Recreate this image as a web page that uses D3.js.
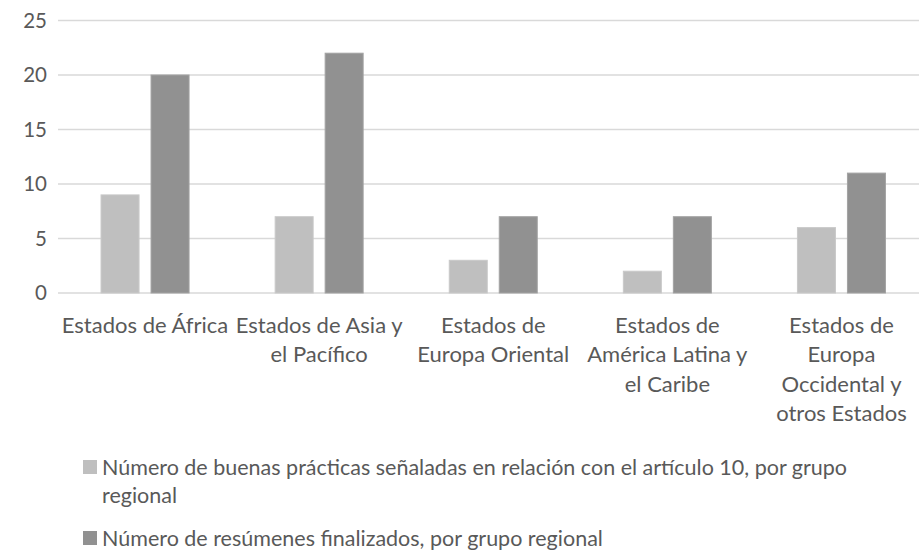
<!DOCTYPE html>
<html>
<head>
<meta charset="utf-8">
<script src="https://cdn.jsdelivr.net/npm/d3@7"></script>
<style>
  html, body { margin: 0; padding: 0; background: #fff; }
  svg { display: block; }
  text { font-family: Lato, "Open Sans", sans-serif; fill: #595959; }
</style>
</head>
<body>
<svg id="chart" width="919" height="550"></svg>
<script>
// Regional groups (already split into display lines)
const categories = [
  ["Estados de África"],
  ["Estados de Asia y", "el Pacífico"],
  ["Estados de", "Europa Oriental"],
  ["Estados de", "América Latina y", "el Caribe"],
  ["Estados de", "Europa", "Occidental y", "otros Estados"]
];
const seriesNames = [
  "Número de buenas prácticas señaladas en relación con el artículo 10, por grupo regional",
  "Número de resúmenes finalizados, por grupo regional"
];
const legendLines = [
  ["Número de buenas prácticas señaladas en relación con el artículo 10, por grupo", "regional"],
  ["Número de resúmenes finalizados, por grupo regional"]
];
const buenasPracticas = [9, 7, 3, 2, 6];
const resumenes = [20, 22, 7, 7, 11];
const yTicks = [0, 5, 10, 15, 20, 25];
const colors = ["#bfbfbf", "#919191"];
const strokes = ["#c9c9c9", "#a3a3a3"];

const svg = d3.select("#chart");
const W = 919;
const plot = { left: 58, right: 928.5, top: 20.5, bottom: 293 };

const x0 = d3.scaleBand()
  .domain(d3.range(categories.length))
  .range([plot.left, plot.right])
  .paddingInner(0).paddingOuter(0);

const x1 = d3.scaleBand()
  .domain([0, 1])
  .range([0, x0.bandwidth()])
  .paddingInner(0.22)
  .paddingOuter(0.851);

const y = d3.scaleLinear().domain([0, 25]).range([plot.bottom, plot.top]);

// Horizontal gridlines
svg.append("g")
  .selectAll("line")
  .data(yTicks)
  .join("line")
  .attr("x1", plot.left)
  .attr("x2", W)
  .attr("y1", d => y(d))
  .attr("y2", d => y(d))
  .attr("stroke", "#d9d9d9")
  .attr("stroke-width", 1.5);

// Y tick labels
svg.append("g")
  .selectAll("text")
  .data(yTicks)
  .join("text")
  .attr("x", 47)
  .attr("y", d => y(d))
  .attr("dy", "0.36em")
  .attr("text-anchor", "end")
  .style("font-size", "20.5px")
  .text(d => d);

// Bars
const series = [buenasPracticas, resumenes];
const groups = svg.append("g")
  .selectAll("g")
  .data(categories.map((c, i) => i))
  .join("g")
  .attr("transform", i => `translate(${x0(i)},0)`);

groups.selectAll("rect")
  .data(i => series.map((s, k) => ({ k, v: s[i] })))
  .join("rect")
  .attr("x", d => x1(d.k) + 0.5)
  .attr("width", x1.bandwidth() - 1)
  .attr("y", d => y(d.v))
  .attr("height", d => y(0) - y(d.v))
  .attr("fill", d => colors[d.k])
  .attr("stroke", d => strokes[d.k])
  .attr("stroke-width", 1);

// Category labels
const catG = svg.append("g")
  .selectAll("text")
  .data(categories)
  .join("text")
  .attr("text-anchor", "middle")
  .style("font-size", "22px")
  .attr("transform", (d, i) => `translate(${x0(i) + x0.bandwidth() / 2},${plot.bottom + 32})`);

catG.selectAll("tspan")
  .data(d => d)
  .join("tspan")
  .attr("x", 0)
  .attr("y", (d, j) => j * 29.3)
  .attr("dy", "0.36em")
  .text(d => d);

// Legend
const legendY = [467, 538];
const leg = svg.append("g")
  .selectAll("g")
  .data(seriesNames)
  .join("g")
  .attr("transform", (d, i) => `translate(83,${legendY[i]})`);

leg.append("rect")
  .attr("x", 0)
  .attr("y", -7)
  .attr("width", 14)
  .attr("height", 14)
  .attr("fill", (d, i) => colors[i]);

leg.append("text")
  .style("font-size", "21.5px")
  .selectAll("tspan")
  .data((d, i) => legendLines[i])
  .join("tspan")
  .attr("x", 19)
  .attr("y", (d, j) => j * 28)
  .attr("dy", "0.36em")
  .text(d => d);
</script>
</body>
</html>
